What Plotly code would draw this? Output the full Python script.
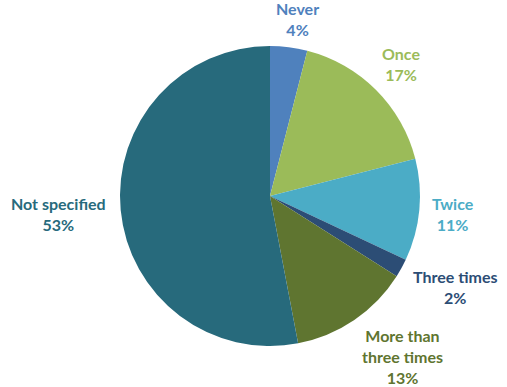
import math
import plotly.graph_objects as go

labels = ["Never", "Once", "Twice", "Three times", "More than three times", "Not specified"]
label_text = ["Never", "Once", "Twice", "Three times", "More than<br>three times", "Not specified"]
values = [4, 17, 11, 2, 13, 53]
colors = ["#4F81BD", "#9BBB59", "#4BACC6", "#2C4D75", "#5F7530", "#276A7C"]

W, H = 507, 387
cx, cy, R = 270, 196, 150
FONT = "Lato"
FS = 16

fig = go.Figure(go.Pie(
    labels=labels, values=values, sort=False, direction="clockwise", rotation=0,
    marker=dict(colors=colors, line=dict(width=0)),
    textinfo="none", hoverinfo="label+percent", showlegend=False,
    domain=dict(x=[(cx - R) / W, (cx + R) / W], y=[(H - cy - R) / H, (H - cy + R) / H]),
))

total = sum(values)
cum = 0
annotations = []
for lab, txt, v, col in zip(labels, label_text, values, colors):
    mid = (cum + v / 2) / total * 2 * math.pi
    cum += v
    s, c = math.sin(mid), math.cos(mid)
    pct = round(v / total * 100)
    lines = txt.split("<br>") + [f"{pct}%"]
    w = 7.3 * max(len(l) for l in lines)
    h = 20 * len(lines)
    px = cx + s * (R + 15)
    py = cy - c * (R + 8)
    fx = max(-1, min(1, 3 * s))
    fy = max(-1, min(1, 1.5 * c))
    tx = px + fx * w / 2
    ty = py - fy * h / 2
    annotations.append(dict(
        x=tx / W, y=1 - ty / H, xref="paper", yref="paper",
        text=f"<b>{txt}<br>{pct}%</b>", showarrow=False,
        xanchor="center", yanchor="middle", align="center",
        font=dict(family=FONT, size=FS, color=col),
    ))

fig.update_layout(
    width=W, height=H, margin=dict(l=0, r=0, t=0, b=0),
    paper_bgcolor="white", plot_bgcolor="white",
    annotations=annotations,
)
fig.write_html("out.html", config={"displayModeBar": False},
               post_script="document.body.style.margin='0';document.body.style.overflow='hidden';")
